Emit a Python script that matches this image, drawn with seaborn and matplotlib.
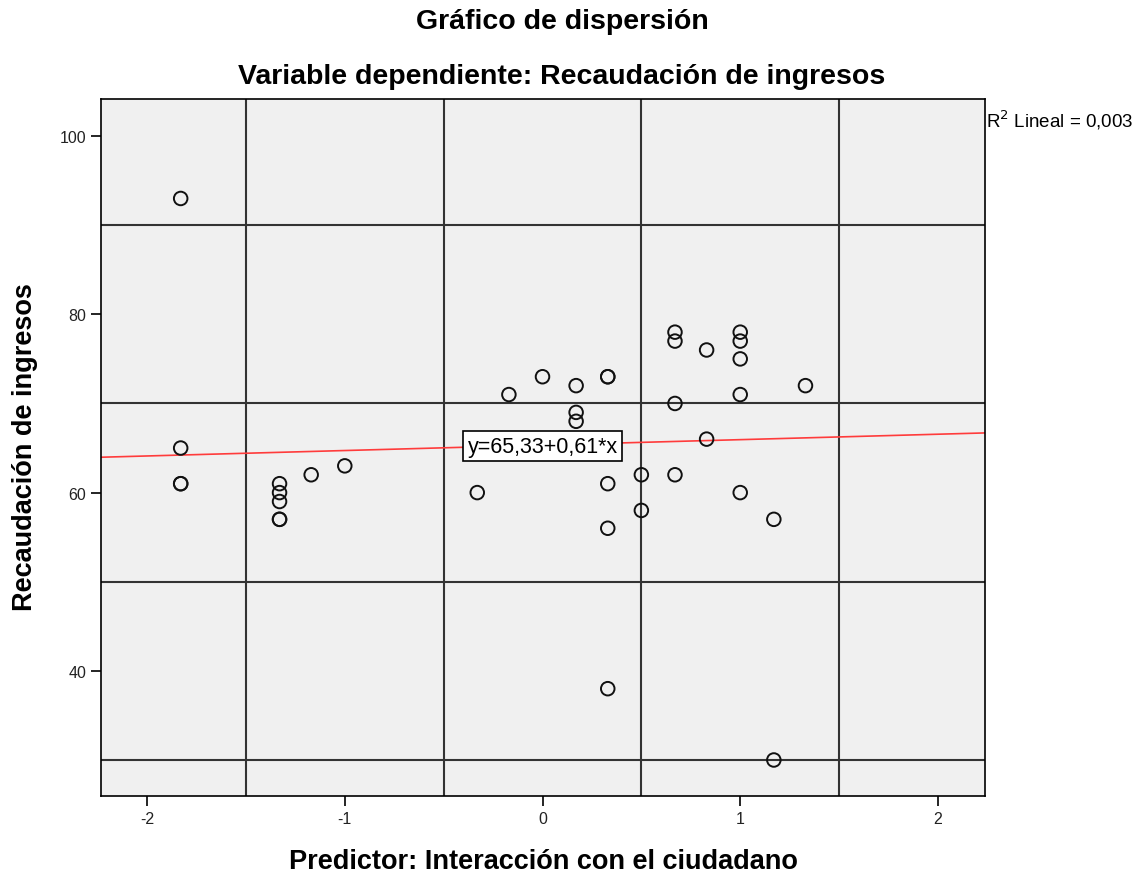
import pandas as pd
import seaborn as sns
import matplotlib.pyplot as plt
from matplotlib.ticker import FixedLocator

# puntos (x en pasos de 1/6)
interaccion = [-1.83, -1.83, -1.83, -1.83,
               -1.33, -1.33, -1.33, -1.33, -1.33,
               -1.17, -1.0, -0.33, -0.17, 0.0,
               0.17, 0.17, 0.17,
               0.33, 0.33, 0.33, 0.33, 0.33,
               0.5, 0.5,
               0.67, 0.67, 0.67, 0.67,
               0.83, 0.83,
               1.0, 1.0, 1.0, 1.0, 1.0,
               1.17, 1.17, 1.33]
recaudacion = [93, 65, 61, 61,
               61, 60, 59, 57, 57,
               62, 63, 60, 71, 73,
               72, 69, 68,
               73, 73, 61, 56, 38,
               62, 58,
               78, 77, 70, 62,
               76, 66,
               78, 77, 75, 71, 60,
               57, 30, 72]
intercepto = 65.33
pendiente = 0.61
r2 = "0,003"

df = pd.DataFrame({"x": interaccion, "y": recaudacion})

sns.set_style("ticks")
plt.rcParams["font.family"] = ["Liberation Sans", "DejaVu Sans"]
plt.rcParams["axes.unicode_minus"] = False
plt.rcParams["text.color"] = "black"
plt.rcParams["axes.labelcolor"] = "black"

fig = plt.figure(figsize=(11.48, 8.79), dpi=100)
ax = fig.add_axes([101 / 1148, 1 - 797 / 879, 884 / 1148, 697 / 879])
ax.set_facecolor("#F0F0F0")

xlim = (-2.233, 2.238)
ylim = (25.96, 104.16)
ax.set_xlim(xlim)
ax.set_ylim(ylim)

# cuadricula en posiciones intermedias, como SPSS
ax.xaxis.set_minor_locator(FixedLocator([-1.5, -0.5, 0.5, 1.5]))
ax.yaxis.set_minor_locator(FixedLocator([30, 50, 70, 90]))
ax.grid(which="minor", color="#333333", linewidth=1.5)
ax.grid(which="major", visible=False)
ax.tick_params(which="minor", length=0)
ax.tick_params(which="major", length=7, width=1.2, labelsize=11.5,
               colors="black", labelcolor="#222222")
ax.set_xticks([-2, -1, 0, 1, 2])
ax.set_yticks([40, 60, 80, 100])
ax.set_axisbelow(True)

# recta de ajuste
lx = pd.Series(xlim)
sns.lineplot(x=lx, y=intercepto + pendiente * lx, ax=ax, color="#ff3b3b",
             linewidth=1.2, zorder=2)

sns.scatterplot(data=df, x="x", y="y", ax=ax, s=95, facecolor="none",
                edgecolor="#111111", linewidth=1.4, zorder=3)

ax.text(0, 65.2, "y=65,33+0,61*x", ha="center", va="center", fontsize=15.5,
        zorder=4, bbox=dict(boxstyle="square,pad=0.22", facecolor="white",
                            edgecolor="black", linewidth=1.2))

for s in ax.spines.values():
    s.set_color("black")
    s.set_linewidth(1.2)

fig.text(986 / 1148, 1 - 120 / 879, "R$^2$ Lineal = " + r2, fontsize=13.5,
         ha="left", va="center")

fig.text(562 / 1148, 1 - 22 / 879, "Gráfico de dispersión", ha="center",
         va="center", fontsize=20.5, fontweight="bold")
fig.text(562 / 1148, 1 - 77 / 879, "Variable dependiente: Recaudación de ingresos",
         ha="center", va="center", fontsize=20.5, fontweight="bold")
ax.set_xlabel("Predictor: Interacción con el ciudadano", fontsize=19.5,
              fontweight="bold", va="center")
ax.set_ylabel("Recaudación de ingresos", fontsize=19.5, fontweight="bold",
              va="center")
ax.xaxis.set_label_coords(0.501, -0.093)
ax.yaxis.set_label_coords(-0.086, 0.502)

fig.savefig("out.png", dpi=100)
